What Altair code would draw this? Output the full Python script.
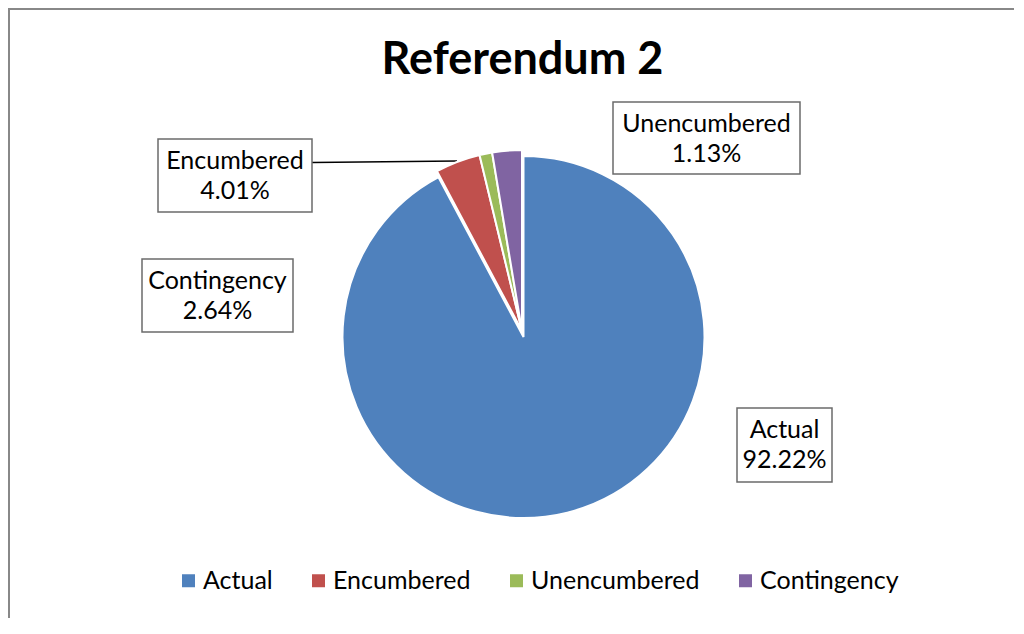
import math
import altair as alt
import numpy as np
import pandas as pd

# ---- data ----
categories = ["Actual", "Encumbered", "Unencumbered", "Contingency"]
percentages = [92.22, 4.01, 1.13, 2.64]
colors = ["#4F81BD", "#C0504D", "#9BBB59", "#8064A2"]
title_text = "Referendum 2"

# ---- layout / style ----
W, H = 1006, 610
FONT = "Lato"
cx, cy, R = 515.5, 329.0, 181
explode_dx, explode_dy = -1.5, -6.0
exploded = ["Encumbered", "Unencumbered", "Contingency"]
# label boxes (x1, x2, y1, y2) in pixel space
label_boxes = {
    "Actual": (729, 824, 400, 474),
    "Encumbered": (150, 304, 131, 204),
    "Unencumbered": (605, 792, 94, 166),
    "Contingency": (134, 285, 251, 324),
}
leader = (304, 154.5, 449, 153.0)

end = np.cumsum(percentages)
start = end - np.array(percentages)
df = pd.DataFrame({
    "category": categories,
    "pct": percentages,
    "start": start,
    "end": end,
    "label": [f"{c}\n{p:.2f}%" for c, p in zip(categories, percentages)],
})
df["bx1"] = [label_boxes[c][0] for c in categories]
df["bx2"] = [label_boxes[c][1] for c in categories]
df["by1"] = [label_boxes[c][2] for c in categories]
df["by2"] = [label_boxes[c][3] for c in categories]
df["tx"] = (df["bx1"] + df["bx2"]) / 2
df["ty"] = df["by1"] + 30

theta_scale = alt.Scale(domain=[0, 100], range=[0, 2 * math.pi])
color = alt.Color(
    "category:N",
    scale=alt.Scale(domain=categories, range=colors),
    legend=alt.Legend(
        orient="none", legendX=168, legendY=560, direction="horizontal",
        columns=4, title=None, symbolType="square", symbolSize=169,
        symbolStrokeWidth=0, labelFont=FONT, labelFontSize=25,
        labelColor="#000000", labelOffset=2, columnPadding=33, padding=0,
        labelLimit=400,
    ),
)

base = alt.Chart(df)

arc_main = base.transform_filter(
    alt.FieldOneOfPredicate(field="category", oneOf=["Actual"])
).mark_arc(radius=R, stroke="white", strokeWidth=2).encode(
    theta=alt.Theta("start:Q", scale=theta_scale),
    theta2="end:Q",
    color=color,
    x=alt.value(cx),
    y=alt.value(cy),
)

arc_exp = base.transform_filter(
    alt.FieldOneOfPredicate(field="category", oneOf=exploded)
).mark_arc(radius=R, stroke="white", strokeWidth=2).encode(
    theta=alt.Theta("start:Q", scale=theta_scale),
    theta2="end:Q",
    color=color,
    x=alt.value(cx + explode_dx),
    y=alt.value(cy + explode_dy),
)

leader_line = alt.Chart(pd.DataFrame({"k": [0]})).mark_rule(
    color="#000000", strokeWidth=1.6
).encode(
    x=alt.value(leader[0]), y=alt.value(leader[1]),
    x2=alt.value(leader[2]), y2=alt.value(leader[3]),
)

boxes = base.mark_rect(fill="white", stroke="#6b6b6b", strokeWidth=1.5).encode(
    x=alt.X("bx1:Q", scale=None), x2="bx2:Q",
    y=alt.Y("by1:Q", scale=None), y2="by2:Q",
)

labels = base.mark_text(
    font=FONT, fontSize=25, color="#000000", align="center",
    baseline="alphabetic", lineBreak="\n", lineHeight=30,
).encode(
    x=alt.X("tx:Q", scale=None),
    y=alt.Y("ty:Q", scale=None),
    text="label:N",
)

title = alt.Chart(pd.DataFrame({"t": [title_text]})).mark_text(
    font=FONT, fontSize=45, fontWeight="bold", color="#000000",
    align="center", baseline="alphabetic",
).encode(x=alt.value(514.5), y=alt.value(66), text="t:N")

border_top = alt.Chart(pd.DataFrame({"k": [0]})).mark_rule(
    color="#888888", strokeWidth=2
).encode(x=alt.value(0), x2=alt.value(W), y=alt.value(1))
border_left = alt.Chart(pd.DataFrame({"k": [0]})).mark_rule(
    color="#888888", strokeWidth=2
).encode(x=alt.value(1), y=alt.value(0), y2=alt.value(H))

chart = alt.layer(
    border_top, border_left, title, leader_line, arc_main, arc_exp, boxes, labels
).properties(
    width=W, height=H, padding=0, autosize=alt.AutoSizeParams(type="none"),
    background="white",
).configure_view(stroke=None)

chart.save("out.html", embed_options={"renderer": "svg", "actions": False})
